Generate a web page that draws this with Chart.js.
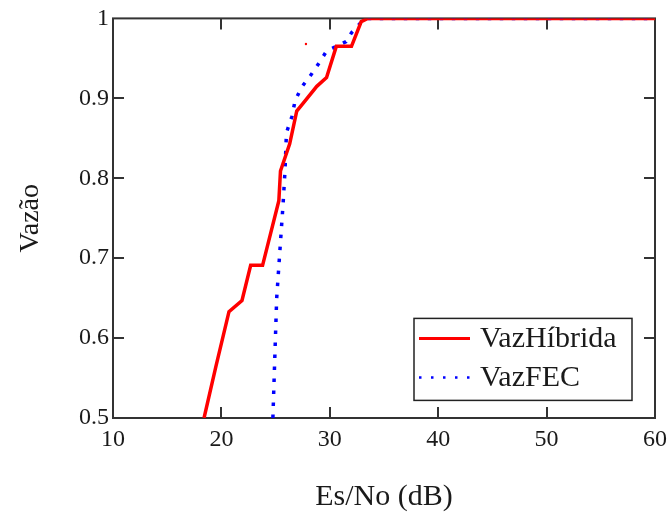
<!DOCTYPE html>
<html>
<head>
<meta charset="utf-8">
<script src="https://cdn.jsdelivr.net/npm/chart.js@4"></script>
<style>
  body { margin: 0; background: #fff; }
  #wrap { width: 672px; height: 517px; }
</style>
</head>
<body>
<div id="wrap"><canvas id="chart"></canvas></div>
<script>
// curve VazHibrida (red)
var hibX = [18.4, 19.5, 20.7, 21.9, 22.7, 23.8, 25.3, 25.45, 26.3, 26.95, 27.55, 28.8, 29.7, 30.6, 32.0, 32.9, 33.5, 60];
var hibY = [0.5, 0.565, 0.633, 0.647, 0.691, 0.691, 0.772, 0.809, 0.843, 0.884, 0.894, 0.915, 0.926, 0.965, 0.965, 0.996, 1, 1];
// curve VazFEC (blue dotted)
var fecX = [24.75, 25.1, 25.7, 25.87, 26.0, 26.5, 26.8, 27.4, 28.3, 29.0, 29.7, 30.9, 31.5, 32.0, 33.1, 33.4, 60];
var fecY = [0.5, 0.65, 0.77, 0.81, 0.857, 0.877, 0.897, 0.914, 0.93, 0.944, 0.959, 0.967, 0.971, 0.982, 0.998, 1, 1];
// stray red point
var strayX = [27.8];
var strayY = [0.968];

var xTicks = [10, 20, 30, 40, 50, 60];
var yTicks = [0.5, 0.6, 0.7, 0.8, 0.9, 1];
var labels = ['VazHíbrida', 'VazFEC'];

function pts(xs, ys) {
    var out = [];
    for (var i = 0; i < xs.length; i++) out.push({x: xs[i], y: ys[i]});
    return out;
}

var serif = "'Liberation Serif', 'Times New Roman', serif";
var ink = '#1a1a1a';

// frame, inward ticks and legend box
var framePlugin = {
    id: 'frame',
    beforeDatasetsDraw: function(chart) {
        var c = chart.ctx, a = chart.chartArea;
        var sx = chart.scales.x, sy = chart.scales.y;
        c.save();
        c.strokeStyle = '#333';
        c.lineWidth = 2;
        c.strokeRect(a.left, a.top, a.right - a.left, a.bottom - a.top);
        var tl = 11;
        c.beginPath();
        for (var i = 1; i < xTicks.length - 1; i++) {
            var px = Math.round(sx.getPixelForValue(xTicks[i]));
            c.moveTo(px, a.bottom); c.lineTo(px, a.bottom - tl);
            c.moveTo(px, a.top); c.lineTo(px, a.top + tl);
        }
        for (var j = 1; j < yTicks.length - 1; j++) {
            var py = Math.round(sy.getPixelForValue(yTicks[j]));
            c.moveTo(a.left, py); c.lineTo(a.left + tl, py);
            c.moveTo(a.right, py); c.lineTo(a.right - tl, py);
        }
        c.stroke();
        c.restore();
    },
    afterDraw: function(chart) {
        var c = chart.ctx, a = chart.chartArea;
        var bx = a.left + 301, by = a.top + 300, bw = 218, bh = 82;
        c.save();
        c.fillStyle = '#fff';
        c.fillRect(bx, by, bw, bh);
        c.strokeStyle = '#222';
        c.lineWidth = 1.5;
        c.strokeRect(bx, by, bw, bh);
        var ds = chart.data.datasets;
        var rows = [by + 20, by + 59];
        for (var k = 0; k < 2; k++) {
            c.beginPath();
            c.strokeStyle = ds[k].borderColor;
            c.lineWidth = k == 0 ? 3 : 2.5;
            c.setLineDash(k == 0 ? [] : [2.5, 9.5]);
            c.moveTo(bx + 5, rows[k]);
            c.lineTo(bx + 56, rows[k]);
            c.stroke();
            c.setLineDash([]);
            c.fillStyle = ink;
            c.font = '30px ' + serif;
            c.textBaseline = 'middle';
            c.fillText(labels[k], bx + 66, rows[k] + 1);
        }
        c.restore();
    }
};

var ctx = document.getElementById('chart').getContext('2d');
var chart = new Chart(ctx, {
    type: 'line',
    data: {
        datasets: [{
            label: labels[0],
            data: pts(hibX, hibY),
            borderColor: '#ff0000',
            borderWidth: 3.5,
            pointRadius: 0,
            tension: 0
        }, {
            label: labels[1],
            data: pts(fecX, fecY),
            borderColor: '#0000ff',
            borderWidth: 3.5,
            borderDash: [3.5, 8.5],
            borderCapStyle: 'butt',
            pointRadius: 0,
            tension: 0
        }, {
            label: 'stray',
            data: pts(strayX, strayY),
            borderColor: '#ff0000',
            backgroundColor: '#ff0000',
            showLine: false,
            pointRadius: 1.2,
            borderWidth: 0
        }]
    },
    options: {
        responsive: true,
        maintainAspectRatio: false,
        animation: false,
        layout: { padding: { left: 0, right: 17, top: 17, bottom: 0 } },
        plugins: { legend: { display: false }, tooltip: { enabled: false } },
        scales: {
            x: {
                type: 'linear',
                min: 10, max: 60,
                afterBuildTicks: function(s) { s.ticks = xTicks.map(function(v) { return {value: v}; }); },
                afterFit: function(s) { s.height = 99; s.paddingRight = 0; s.paddingLeft = 0; },
                grid: { display: false, drawTicks: false },
                border: { display: false },
                ticks: { color: ink, padding: 7, maxRotation: 0, font: { family: serif, size: 24 } },
                title: { display: true, text: 'Es/No (dB)', color: ink, padding: { top: 0, bottom: 2 }, font: { family: serif, size: 30 } }
            },
            y: {
                type: 'linear',
                min: 0.5, max: 1,
                afterBuildTicks: function(s) { s.ticks = yTicks.map(function(v) { return {value: v}; }); },
                afterFit: function(s) { s.width = 113; },
                grid: { display: false, drawTicks: false },
                border: { display: false },
                ticks: {
                    color: ink, padding: 4, font: { family: serif, size: 24 },
                    callback: function(v) { return String(+v.toFixed(1)); }
                },
                title: { display: true, text: 'Vazão', color: ink, padding: { top: 14, bottom: 0 }, font: { family: serif, size: 28 } }
            }
        }
    },
    plugins: [framePlugin]
});
</script>
</body>
</html>
